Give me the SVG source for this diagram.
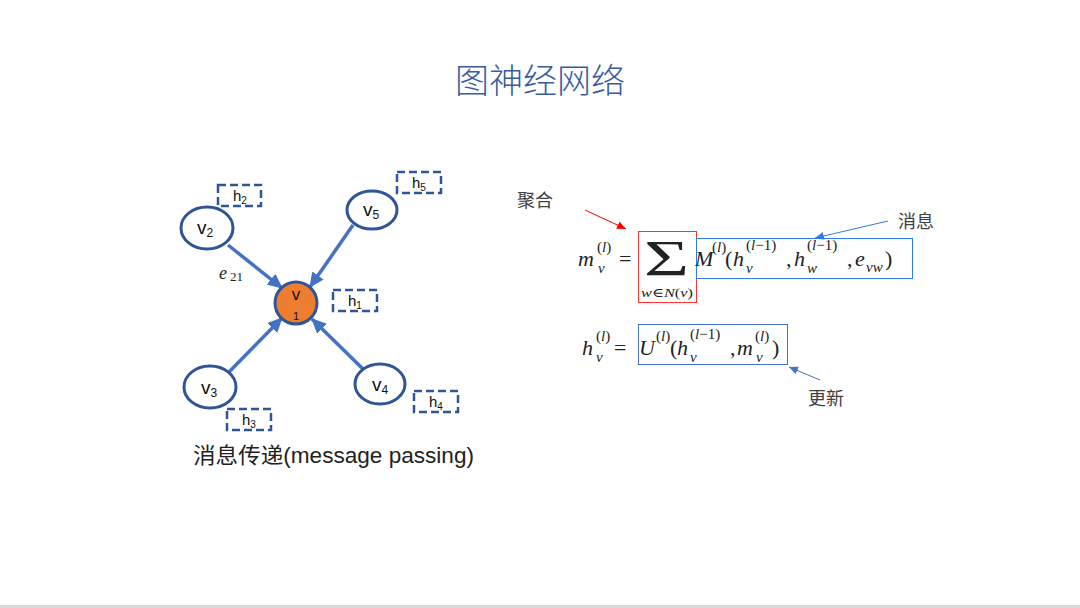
<svg xmlns="http://www.w3.org/2000/svg" width="1080" height="608" viewBox="0 0 1080 608">
<defs>
<style>
.node{fill:#fff;stroke:#2F5597;stroke-width:3}
.hbox{fill:none;stroke:#2F5597;stroke-width:2.5;stroke-dasharray:8 4}
.edge{stroke:#4472C4;stroke-width:3.5;fill:none}
.lbl{font-family:"Liberation Sans","Noto Sans",sans-serif;fill:#111}
.it{font-family:"Liberation Serif","DejaVu Serif",serif;font-style:italic;fill:#222}
.rm{font-family:"Liberation Serif","DejaVu Serif",serif;font-style:normal;fill:#222}
.big{font-size:22px}
.sm{font-size:15px}
.cjk{font-family:"Noto Sans CJK SC",sans-serif;fill:#404040;font-size:18px}
</style>
<marker id="ah" markerUnits="userSpaceOnUse" markerWidth="16" markerHeight="14" refX="14" refY="7" orient="auto">
<path d="M0,0 L15,7 L0,14 z" fill="#4472C4"/>
</marker>
<marker id="ahRed" markerUnits="userSpaceOnUse" markerWidth="10" markerHeight="8" refX="9" refY="4" orient="auto">
<path d="M0,0 L9,4 L0,8 z" fill="#FF0000"/>
</marker>
<marker id="ahBlue" markerUnits="userSpaceOnUse" markerWidth="10" markerHeight="8" refX="9" refY="4" orient="auto">
<path d="M0,0 L9,4 L0,8 z" fill="#2E7BF0"/>
</marker>
<marker id="ahBlue2" markerUnits="userSpaceOnUse" markerWidth="10" markerHeight="8" refX="9" refY="4" orient="auto">
<path d="M0,0 L9,4 L0,8 z" fill="#4472C4"/>
</marker>
</defs>
<rect width="1080" height="608" fill="#fff"/>
<rect x="0" y="605" width="1080" height="3" fill="#D9D9D9"/>

<text x="540" y="93" text-anchor="middle" font-family="Noto Sans CJK SC,sans-serif" font-size="34" font-weight="300" fill="#3A5BA0">图神经网络</text>

<g id="connectors">
<line class="edge" x1="228" y1="245" x2="282" y2="288" marker-end="url(#ah)"/>
<line class="edge" x1="353" y1="225" x2="310" y2="287" marker-end="url(#ah)"/>
<line class="edge" x1="229" y1="372" x2="282" y2="318" marker-end="url(#ah)"/>
<line class="edge" x1="363" y1="369" x2="312" y2="319" marker-end="url(#ah)"/>
<line x1="585" y1="210" x2="626" y2="229" stroke="#FF0000" stroke-width="1" marker-end="url(#ahRed)"/>
<line x1="888" y1="221" x2="815" y2="238" stroke="#2E7BF0" stroke-width="1" marker-end="url(#ahBlue)"/>
<line x1="820" y1="380" x2="789" y2="367" stroke="#4472C4" stroke-width="1" marker-end="url(#ahBlue2)"/>
</g>

<g id="v2">
<ellipse class="node" cx="207" cy="228" rx="26" ry="21"/>
<text class="lbl" x="197" y="234" font-size="19">v<tspan font-size="12" dy="3">2</tspan></text>
</g>
<g id="v5">
<ellipse class="node" cx="372" cy="210" rx="25" ry="19"/>
<text class="lbl" x="363" y="216" font-size="19">v<tspan font-size="12" dy="3">5</tspan></text>
</g>
<g id="v1">
<circle cx="296" cy="303" r="21" fill="#ED7D31" stroke="#2F5597" stroke-width="3"/>
<text class="lbl" x="296" y="300" font-size="17" text-anchor="middle">v</text>
<text class="lbl" x="296" y="320" font-size="11" text-anchor="middle">1</text>
</g>
<g id="v3">
<ellipse class="node" cx="210" cy="387" rx="26" ry="21"/>
<text class="lbl" x="201" y="394" font-size="19">v<tspan font-size="12" dy="3">3</tspan></text>
</g>
<g id="v4">
<ellipse class="node" cx="380" cy="384" rx="25" ry="20"/>
<text class="lbl" x="372" y="391" font-size="19">v<tspan font-size="12" dy="3">4</tspan></text>
</g>

<g id="h2"><rect class="hbox" x="218" y="185" width="43" height="21"/><text class="lbl" x="233" y="201" font-size="15">h<tspan font-size="10" dy="3">2</tspan></text></g>
<g id="h5"><rect class="hbox" x="397" y="172" width="44" height="21"/><text class="lbl" x="412" y="188" font-size="15">h<tspan font-size="10" dy="3">5</tspan></text></g>
<g id="h1"><rect class="hbox" x="333" y="290" width="44" height="21"/><text class="lbl" x="348" y="306" font-size="15">h<tspan font-size="10" dy="3">1</tspan></text></g>
<g id="h3"><rect class="hbox" x="227" y="409" width="44" height="21"/><text class="lbl" x="242" y="425" font-size="15">h<tspan font-size="10" dy="3">3</tspan></text></g>
<g id="h4"><rect class="hbox" x="414" y="391" width="44" height="21"/><text class="lbl" x="429" y="407" font-size="15">h<tspan font-size="10" dy="3">4</tspan></text></g>

<text class="it" x="219" y="279" style="font-size:18px">e<tspan class="rm" style="font-size:13px" dy="2" dx="3">21</tspan></text>

<text x="193" y="463" font-family="Liberation Sans,Noto Sans CJK SC,sans-serif" font-size="21.5" fill="#222" textLength="281" lengthAdjust="spacingAndGlyphs">消息传递(message passing)</text>

<g id="formula1">
<rect x="638.5" y="231.5" width="58" height="71" fill="none" stroke="#FF3333" stroke-width="1"/>
<rect x="696.5" y="238.5" width="216" height="40" fill="none" stroke="#2E7BF0" stroke-width="1"/>
<text class="it big" x="578" y="266">m</text>
<text class="rm sm" x="597" y="252">(<tspan class="it">l</tspan>)</text>
<text class="it sm" x="598" y="273">v</text>
<text class="rm big" x="619" y="266">=</text>
<text class="rm" x="644" y="275" style="font-size:50px" textLength="45" lengthAdjust="spacingAndGlyphs">Σ</text>
<text class="it" x="641" y="297" style="font-size:12.5px" textLength="52" lengthAdjust="spacingAndGlyphs">w∈N<tspan class="rm">(</tspan>v<tspan class="rm">)</tspan></text>
<text class="it big" x="695" y="266">M</text>
<text class="rm sm" x="712" y="252">(<tspan class="it">l</tspan>)</text>
<text class="rm big" x="725" y="266">(</text>
<text class="it big" x="733" y="266">h</text>
<text class="rm sm" x="746" y="250">(<tspan class="it">l</tspan>−1)</text>
<text class="it sm" x="746" y="273">v</text>
<text class="rm big" x="786" y="266">,</text>
<text class="it big" x="794" y="266">h</text>
<text class="rm sm" x="807" y="250">(<tspan class="it">l</tspan>−1)</text>
<text class="it sm" x="807" y="273">w</text>
<text class="rm big" x="847" y="266">,</text>
<text class="it big" x="855" y="266">e</text>
<text class="it sm" x="866" y="272">vw</text>
<text class="rm big" x="885" y="266">)</text>
</g>

<g id="formula2">
<rect x="638.5" y="324.5" width="149" height="40" fill="none" stroke="#4472C4" stroke-width="1"/>
<text class="it big" x="582" y="355">h</text>
<text class="rm sm" x="596" y="341">(<tspan class="it">l</tspan>)</text>
<text class="it sm" x="596" y="362">v</text>
<text class="rm big" x="614" y="355">=</text>
<text class="it big" x="639" y="355">U</text>
<text class="rm sm" x="656" y="341">(<tspan class="it">l</tspan>)</text>
<text class="rm big" x="670" y="355">(</text>
<text class="it big" x="677" y="355">h</text>
<text class="rm sm" x="690" y="339">(<tspan class="it">l</tspan>−1)</text>
<text class="it sm" x="690" y="362">v</text>
<text class="rm big" x="730" y="355">,</text>
<text class="it big" x="737" y="355">m</text>
<text class="rm sm" x="755" y="341">(<tspan class="it">l</tspan>)</text>
<text class="it sm" x="756" y="362">v</text>
<text class="rm big" x="772" y="355">)</text>
</g>

<text class="cjk" x="517" y="207">聚合</text>
<text class="cjk" x="898" y="228">消息</text>
<text class="cjk" x="808" y="405">更新</text>
</svg>
